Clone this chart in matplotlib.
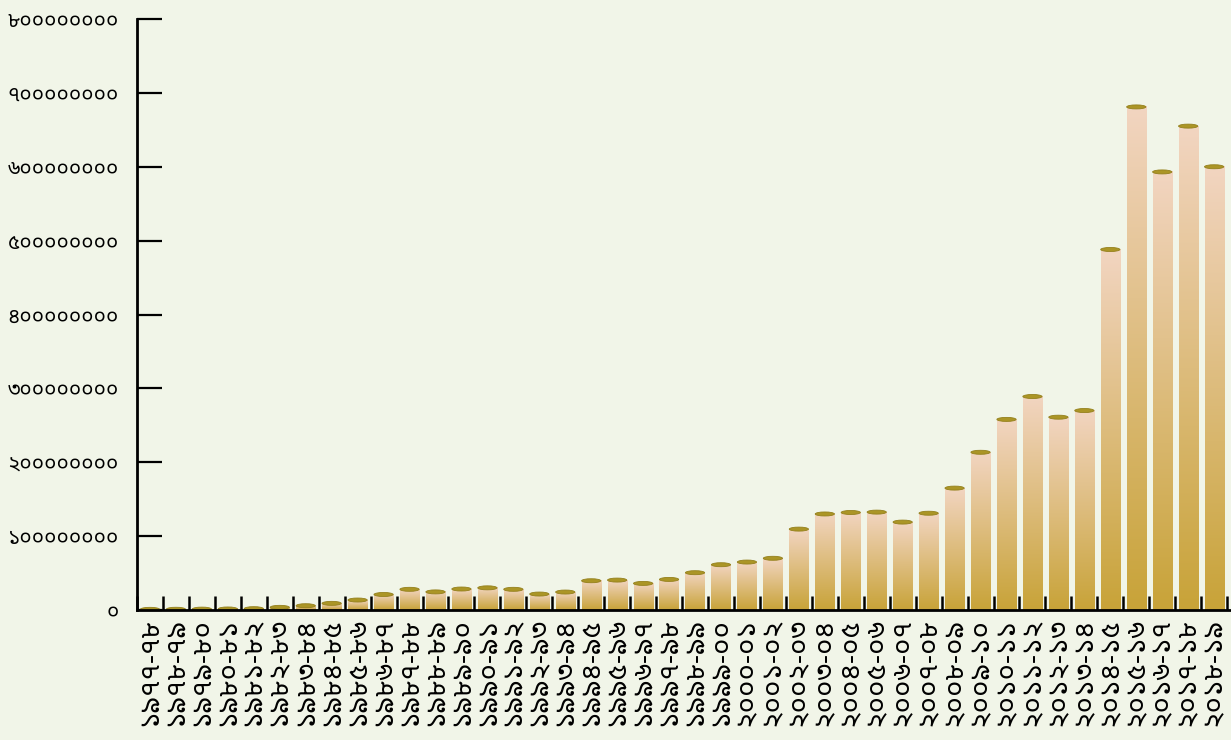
import numpy as np
import matplotlib
matplotlib.use("Agg")
import matplotlib.pyplot as plt
from matplotlib import font_manager
from matplotlib.colors import LinearSegmentedColormap
from matplotlib.patches import Ellipse

# financial years, written with Bengali digits as in the original chart
years = ["১৯৭৭-৭৮", "১৯৭৮-৭৯", "১৯৭৯-৮০", "১৯৮০-৮১", "১৯৮১-৮২", "১৯৮২-৮৩",
         "১৯৮৩-৮৪", "১৯৮৪-৮৫", "১৯৮৫-৮৬", "১৯৮৬-৮৭", "১৯৮৭-৮৮", "১৯৮৮-৮৯",
         "১৯৮৯-৯০", "১৯৯০-৯১", "১৯৯১-৯২", "১৯৯২-৯৩", "১৯৯৩-৯৪", "১৯৯৪-৯৫",
         "১৯৯৫-৯৬", "১৯৯৬-৯৭", "১৯৯৭-৯৮", "১৯৯৮-৯৯", "১৯৯৯-০০", "২০০০-০১",
         "২০০১-০২", "২০০২-০৩", "২০০৩-০৪", "২০০৪-০৫", "২০০৫-০৬", "২০০৬-০৭",
         "২০০৭-০৮", "২০০৮-০৯", "২০০৯-১০", "২০১০-১১", "২০১১-১২", "২০১২-১৩",
         "২০১৩-১৪", "২০১৪-১৫", "২০১৫-১৬", "২০১৬-১৭", "২০১৭-১৮", "২০১৮-১৯"]

values = [900000, 1000000, 1200000, 1400000, 1800000, 3600000,
          5800000, 9000000, 13500000, 21000000, 28000000, 24500000,
          28400000, 30000000, 28000000, 21600000, 24300000, 39600000,
          40500000, 36000000, 41400000, 50500000, 61300000, 64900000,
          70000000, 109500000, 130000000, 132000000, 132500000, 119000000,
          131000000, 165000000, 213500000, 258000000, 289000000, 261000000,
          270000000, 488000000, 681000000, 593000000, 655000000, 600000000]

y_ticks = [0, 100000000, 200000000, 300000000, 400000000,
           500000000, 600000000, 700000000, 800000000]

BN_DIGITS = str.maketrans("0123456789", "০১২৩৪৫৬৭৮৯")

BG = "#f1f5e8"
BAR_BOTTOM = "#c8a338"
BAR_TOP = "#f2d5c1"
CAP = "#ab9526"

# pick an installed font that has Bengali digits
installed = {f.name for f in font_manager.fontManager.ttflist}
bn_font = None
for name in ["Noto Sans Bengali", "Lohit Bengali", "Hind Siliguri", "FreeSans"]:
    if name in installed:
        bn_font = name
        break
plt.rcParams["font.family"] = [bn_font, "DejaVu Sans"] if bn_font else ["DejaVu Sans"]

fig = plt.figure(figsize=(12.31, 7.40), dpi=100, facecolor=BG)
ax = fig.add_axes([137 / 1231, 130 / 740, 1094 / 1231, 591 / 740])
ax.set_facecolor(BG)

x = np.arange(len(years))
bars = ax.bar(x, values, width=0.74, color=BAR_BOTTOM, zorder=2)

# vertical gradient on every bar, light at the top
cmap = LinearSegmentedColormap.from_list("bar", [BAR_BOTTOM, BAR_TOP])
grad = np.linspace(1, 0, 256).reshape(-1, 1)
cap_h = 800000000 / 591 * 4
for b in bars:
    x0, w, h = b.get_x(), b.get_width(), b.get_height()
    ax.imshow(grad, extent=[x0, x0 + w, 0, h], aspect="auto", cmap=cmap,
              origin="upper", zorder=3, interpolation="bilinear")
    ax.add_patch(Ellipse((x0 + w / 2, h), w, cap_h, facecolor=CAP,
                         edgecolor="#94801c", linewidth=0.6, zorder=4))

ax.set_xlim(-0.5, 41.65)
ax.set_ylim(0, 800000000)

for side in ["top", "right"]:
    ax.spines[side].set_visible(False)
for side in ["left", "bottom"]:
    ax.spines[side].set_linewidth(2)
    ax.spines[side].set_color("black")
    ax.spines[side].set_zorder(5)

ax.set_yticks(y_ticks)
ax.set_yticklabels([str(v).translate(BN_DIGITS) for v in y_ticks])
ax.tick_params(axis="y", direction="in", length=18, width=1.6, pad=13,
               labelsize=15, colors="black")

ax.set_xticks(x)
ax.set_xticklabels(years, rotation=90)
ax.tick_params(axis="x", which="major", length=0, pad=6, labelsize=20)
ax.set_xticks(np.arange(-0.5, len(years), 1), minor=True)
ax.tick_params(axis="x", which="minor", direction="in", length=10, width=1.8,
               color="black")

fig.savefig("out.png", dpi=100, facecolor=BG)
